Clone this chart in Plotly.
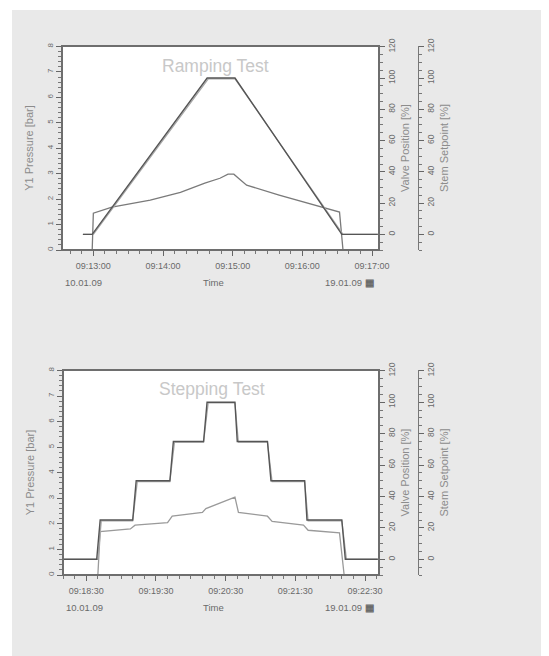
import plotly.graph_objects as go

PAGE_W, PAGE_H = 549, 656
OFF = 8                      # browser body margin
W, H = PAGE_W - OFF, PAGE_H - OFF
D = "2009-01-19 "

# ---------------- Ramping test data ----------------
ramp_sp_t = ["09:12:51", "09:12:59", "09:14:38", "09:15:02", "09:16:34", "09:17:05"]
ramp_sp_v = [0, 0, 100, 100, 0, 0]

ramp_vp_t = ["09:12:51", "09:13:00", "09:14:39", "09:15:02", "09:16:35", "09:17:05"]
ramp_vp_v = [0, 0, 99.5, 99.5, 0, 0]

ramp_p_t = ["09:12:51", "09:12:59", "09:13:00", "09:13:16", "09:13:49", "09:14:15", "09:14:36",
            "09:14:49", "09:14:56", "09:15:01", "09:15:06", "09:15:12", "09:15:40", "09:16:06",
            "09:16:32", "09:16:35", "09:17:05"]
ramp_p_v = [0, 0, 1.45, 1.69, 1.96, 2.27, 2.63, 2.82, 2.98, 2.98, 2.78, 2.55, 2.16, 1.84, 1.49, 0, 0]

# ---------------- Stepping test data ----------------
step_sp_t = ["09:18:10", "09:18:39", "09:18:42", "09:19:10", "09:19:13", "09:19:42", "09:19:45",
             "09:20:11", "09:20:14", "09:20:38", "09:20:40", "09:21:06", "09:21:09", "09:21:38",
             "09:21:40", "09:22:10", "09:22:13", "09:22:41"]
step_sp_v = [0, 0, 25, 25, 50, 50, 75, 75, 100, 100, 75, 75, 50, 50, 25, 25, 0, 0]

step_vp_t = ["09:18:10", "09:18:40", "09:18:43", "09:19:10", "09:19:14", "09:19:42", "09:19:46",
             "09:20:11", "09:20:15", "09:20:38", "09:20:41", "09:21:06", "09:21:10", "09:21:38",
             "09:21:41", "09:22:10", "09:22:14", "09:22:41"]
step_vp_v = [0, 0, 24.5, 24.5, 49.5, 49.5, 74.5, 74.5, 99.5, 99.5, 74.5, 74.5, 49.5, 49.5, 24.5, 24.5, 0, 0]

step_p_t = ["09:18:10", "09:18:40", "09:18:42", "09:19:08", "09:19:12", "09:19:40", "09:19:44",
            "09:20:10", "09:20:13", "09:20:38", "09:20:41", "09:21:06", "09:21:10", "09:21:37",
            "09:21:41", "09:22:08", "09:22:12", "09:22:41"]
step_p_v = [0, 0, 1.7, 1.8, 1.95, 2.05, 2.3, 2.45, 2.6, 3.05, 2.45, 2.3, 2.1, 1.95, 1.75, 1.65, 0, 0]

pressure_ticks = [0, 1, 2, 3, 4, 5, 6, 7, 8]
percent_ticks = [0, 20, 40, 60, 80, 100, 120]

FONT = "Liberation Sans, Arial, sans-serif"
TXT = "#6a6a6a"
TITLE_C = "#8c8c8c"


def px(x):
    return (x - OFF) / W


def py(y):
    return 1 - (y - OFF) / H


def T(lst):
    return [D + s for s in lst]


fig = go.Figure()
# top chart traces
fig.add_trace(go.Scatter(x=T(ramp_p_t), y=ramp_p_v, xaxis="x", yaxis="y", mode="lines",
                         line=dict(color="#7a7a7a", width=1.3), name="Y1 Pressure"))
fig.add_trace(go.Scatter(x=T(ramp_vp_t), y=ramp_vp_v, xaxis="x", yaxis="y2", mode="lines",
                         line=dict(color="#a8a8a8", width=1.2), name="Valve Position"))
fig.add_trace(go.Scatter(x=T(ramp_sp_t), y=ramp_sp_v, xaxis="x", yaxis="y3", mode="lines",
                         line=dict(color="#555555", width=1.4), name="Stem Setpoint"))
# bottom chart traces
fig.add_trace(go.Scatter(x=T(step_p_t), y=step_p_v, xaxis="x2", yaxis="y4", mode="lines",
                         line=dict(color="#9a9a9a", width=1.3), name="Y1 Pressure"))
fig.add_trace(go.Scatter(x=T(step_vp_t), y=step_vp_v, xaxis="x2", yaxis="y5", mode="lines",
                         line=dict(color="#a8a8a8", width=1.2), name="Valve Position"))
fig.add_trace(go.Scatter(x=T(step_sp_t), y=step_sp_v, xaxis="x2", yaxis="y6", mode="lines",
                         line=dict(color="#555555", width=1.4), name="Stem Setpoint"))

charts = [
    dict(l=62, r=379, t=46, b=250, r0="09:12:33", r1="09:17:06", tick0="09:13:00",
         xa="xaxis", ya=("yaxis", "yaxis2", "yaxis3"), xr="x", yr=("y", "y2", "y3"),
         title="Ramping Test", tx=215, ty=66),
    dict(l=63, r=379, t=370, b=575, r0="09:18:10", r1="09:22:42", tick0="09:18:30",
         xa="xaxis2", ya=("yaxis4", "yaxis5", "yaxis6"), xr="x2", yr=("y4", "y5", "y6"),
         title="Stepping Test", tx=212, ty=389),
]

layout = dict(
    width=W, height=H,
    margin=dict(l=0, r=0, t=0, b=0),
    paper_bgcolor="#e9e9e9",
    plot_bgcolor="white",
    showlegend=False,
    font=dict(family=FONT, color=TXT, size=8),
    shapes=[
        dict(type="rect", xref="paper", yref="paper", x0=0, x1=px(12), y0=0, y1=1,
             fillcolor="white", line=dict(width=0), layer="below"),
        dict(type="rect", xref="paper", yref="paper", x0=0, x1=1, y0=py(10), y1=1,
             fillcolor="white", line=dict(width=0), layer="below"),
    ],
    annotations=[],
)

tick_common = dict(ticks="outside", tickcolor="#666", ticklen=5, tickwidth=1,
                   showgrid=False, zeroline=False, automargin=False)

for c in charts:
    xd = [px(c["l"]), px(c["r"])]
    yd = [py(c["b"]), py(c["t"])]
    ya1, ya2, ya3 = c["ya"]
    yr1, yr2, yr3 = c["yr"]
    layout[c["xa"]] = dict(
        domain=xd, anchor=yr1, type="date",
        range=[D + c["r0"], D + c["r1"]],
        tick0=D + c["tick0"], dtick=60000, tickformat="%H:%M:%S",
        tickfont=dict(size=9, color=TXT), ticklabelstandoff=2,
        minor=dict(dtick=10000, ticks="outside", ticklen=3, tickcolor="#777"),
        showline=False, **tick_common)
    layout[ya1] = dict(
        domain=yd, anchor=c["xr"], range=[0, 8.02], tickvals=pressure_ticks,
        tickfont=dict(size=8, color=TXT), tickangle=-90,
        minor=dict(dtick=0.2, ticks="outside", ticklen=3, tickcolor="#777"),
        title=dict(text="Y1 Pressure [bar]", font=dict(size=11, color=TITLE_C), standoff=9),
        showline=False, **tick_common)
    layout[ya2] = dict(
        overlaying=yr1, side="right", anchor=c["xr"], range=[-10, 120.5],
        tickvals=percent_ticks, tickfont=dict(size=8.5, color=TXT), tickangle=-90,
        minor=dict(dtick=5, ticks="outside", ticklen=3, tickcolor="#777"),
        title=dict(text="Valve Position [%]", font=dict(size=11, color=TITLE_C), standoff=5),
        showline=False, **tick_common)
    layout[ya3] = dict(
        overlaying=yr1, side="right", anchor="free", position=px(418), range=[-10, 120.5],
        tickvals=percent_ticks, tickfont=dict(size=8.5, color=TXT), tickangle=-90,
        minor=dict(dtick=5, ticks="outside", ticklen=3, tickcolor="#777"),
        title=dict(text="Stem Setpoint [%]", font=dict(size=11, color=TITLE_C), standoff=5),
        showline=True, linecolor="#777", linewidth=1, **tick_common)
    # plot frame
    layout["shapes"].append(dict(type="rect", xref="paper", yref="paper",
                                 x0=xd[0], x1=xd[1], y0=yd[0], y1=yd[1],
                                 line=dict(color="#6e6e6e", width=2), layer="above"))
    # chart title
    layout["annotations"].append(dict(text=c["title"], x=px(c["tx"]), y=py(c["ty"]),
                                      xref="paper", yref="paper", showarrow=False,
                                      xanchor="center", yanchor="middle",
                                      font=dict(size=17.5, color="#c8c8c8")))
    dy = c["b"] + 32
    layout["annotations"] += [
        dict(text="10.01.09", x=px(c["l"] + 1), y=py(dy), xref="paper", yref="paper",
             xanchor="left", yanchor="middle", showarrow=False, font=dict(size=9.5, color=TXT)),
        dict(text="Time", x=px(213), y=py(dy), xref="paper", yref="paper",
             xanchor="center", yanchor="middle", showarrow=False, font=dict(size=9.5, color=TXT)),
        dict(text="19.01.09 <b>▦</b>", x=px(c["r"] - 3), y=py(dy), xref="paper", yref="paper",
             xanchor="right", yanchor="middle", showarrow=False, font=dict(size=9.5, color=TXT)),
    ]

fig.update_layout(**layout)
fig.write_html("out.html")
